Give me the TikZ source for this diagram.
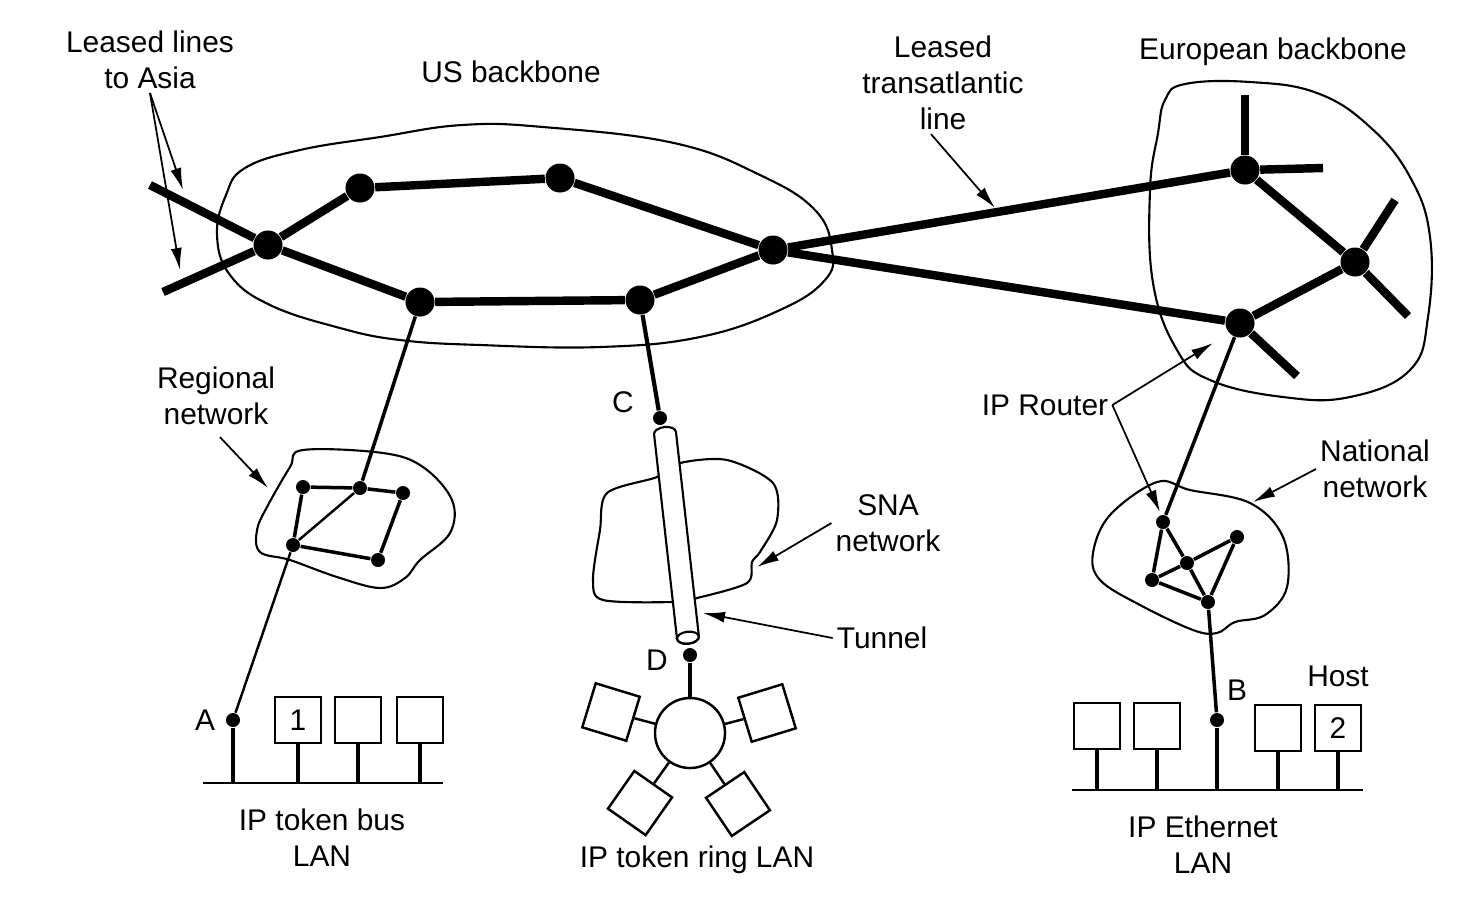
\documentclass[tikz,border=0pt]{standalone}
\usepackage{fontspec}
\setmainfont{Liberation Sans}
\usetikzlibrary{arrows.meta,positioning,calc}

\begin{document}
\begin{tikzpicture}[x=0.01cm, y=-0.01cm,
  router/.style={circle, fill, inner sep=0pt, minimum size=2.9mm},
  smalldot/.style={circle, fill, inner sep=0pt, minimum size=1.4mm},
  host/.style={rectangle, draw, line width=0.7pt, minimum size=4.6mm, inner sep=0pt, font=\fontsize{8.5}{10}\selectfont},
  trunk/.style={line width=2.4pt},
  link/.style={line width=1pt},
  thinlink/.style={line width=0.7pt},
  cloud/.style={line width=0.6pt},
  arrow/.style={-{Latex[length=2.2mm, width=1.1mm]}, line width=0.5pt},
  lbl/.style={align=center, inner sep=1pt, font=\fontsize{8.5}{10.2}\selectfont},
]
\useasboundingbox (0,0) rectangle (1473,923);

\draw[cloud] plot[smooth cycle, tension=0.7] coordinates {(217,235) (226,195) (245,168) (300,150) (380,137) (462,125) (543,127) (674,143) (760,175) (815,210) (832,250) (825,280) (780,310) (700,337) (600,347) (480,345) (400,340) (340,328) (270,305) (230,275)};
\draw[cloud] plot[smooth cycle, tension=0.7] coordinates {(1158,133) (1165,100) (1185,84) (1250,82) (1317,93) (1370,127) (1410,177) (1430,237) (1428,317) (1410,370) (1350,397) (1283,397) (1210,380) (1177,350) (1153,283) (1150,190)};
\draw[cloud] plot[smooth cycle, tension=0.6] coordinates {(303,450) (383,453) (423,467) (452,500) (450,533) (420,560) (405,578) (380,588) (337,577) (290,560) (260,552) (257,530) (267,507) (290,467)};
\draw[cloud] plot[smooth cycle, tension=0.6] coordinates {(1093,553) (1110,515) (1157,482) (1190,490) (1250,503) (1283,537) (1287,587) (1265,615) (1235,622) (1217,633) (1193,630) (1140,605) (1100,580)};
\draw[cloud] plot[smooth cycle, tension=0.5] coordinates {(657,477) (607,493) (600,530) (593,580) (603,600) (673,602) (697,598) (747,583) (752,562) (760,552) (777,520) (773,483) (727,460) (680,463)};

% US backbone
\node[router] (usw) at (268,245) {};
\node[router] (usnw) at (360,188) {};
\node[router] (usne) at (560,178) {};
\node[router] (use) at (773,250) {};
\node[router] (ussw) at (420,302) {};
\node[router] (usse) at (640,300) {};
\coordinate (asia1) at (150,185);
\coordinate (asia2) at (163,292);

\draw[trunk] (asia1) -- (usw);
\draw[trunk] (asia2) -- (usw);
\draw[trunk] (usw) -- (usnw);
\draw[trunk] (usnw) -- (usne);
\draw[trunk] (usne) -- (use);
\draw[trunk] (usw) -- (ussw);
\draw[trunk] (ussw) -- (usse);
\draw[trunk] (usse) -- (use);

% European backbone
\node[router] (eun) at (1245,170) {};
\node[router] (eue) at (1355,262) {};
\node[router] (eus) at (1240,323) {};
\coordinate (eun1) at (1245,95);
\coordinate (eun2) at (1323,168);
\coordinate (eue1) at (1395,200);
\coordinate (eue2) at (1408,316);
\coordinate (eus1) at (1297,376);

\draw[trunk] (use) -- (eun);
\draw[trunk] (use) -- (eus);
\draw[trunk] (eun) -- (eue);
\draw[trunk] (eue) -- (eus);
\draw[trunk] (eun) -- (eun1);
\draw[trunk] (eun) -- (eun2);
\draw[trunk] (eue) -- (eue1);
\draw[trunk] (eue) -- (eue2);
\draw[trunk] (eus) -- (eus1);

% regional network
\node[smalldot] (rg1) at (303,487) {};
\node[smalldot] (rg2) at (360,488) {};
\node[smalldot] (rg3) at (403,493) {};
\node[smalldot] (rg4) at (293,545) {};
\node[smalldot] (rg5) at (378,560) {};
\draw[link] (rg1) -- (rg2) -- (rg3) -- (rg5) -- (rg4) -- (rg1);
\draw[thinlink] (rg4) -- (rg2);
\draw[link] (ussw) -- (rg2);

% national network
\node[smalldot] (nt1) at (1163,522) {};
\node[smalldot] (nt2) at (1187,563) {};
\node[smalldot] (nt3) at (1152,580) {};
\node[smalldot] (nt4) at (1237,537) {};
\node[smalldot] (nt5) at (1208,602) {};
\draw[link] (nt1) -- (nt3) -- (nt5) -- (nt4) -- (nt2) -- (nt1);
\draw[link] (nt3) -- (nt2) -- (nt5);
\draw[link] (eus) -- (nt1);

% tunnel through the SNA network
\node[smalldot] (ndC) at (660,418) {};
\node[smalldot] (ndD) at (690,655) {};
\draw[line width=1.2pt] (usse) -- (ndC);
\begin{scope}[shift={(665,433)}, rotate=6.4]
  \coordinate (tuntop) at (0,0);
  \coordinate (tunend) at (0,206);
  \filldraw[cloud, fill=white] (-11,206) -- (-11,0) arc[start angle=180, end angle=0, x radius=1.1mm, y radius=0.6mm] -- (11,206) arc[start angle=0, end angle=-180, x radius=1.1mm, y radius=0.6mm] -- cycle;
  \draw[cloud] (tunend) ellipse[x radius=1.1mm, y radius=0.6mm];
\end{scope}

% token ring LAN
\node[circle, draw, line width=0.7pt, minimum size=7mm] (ring) at (690,733) {};
\node[host, rotate=-17] (trb1) at (611,712) {};
\node[host, rotate=17] (trb2) at (767,713) {};
\node[host, rotate=-35] (trb3) at (640,803) {};
\node[host, rotate=34] (trb4) at (738,804) {};
\draw[link] (ndD) -- (ring);
\draw[thinlink] (ring) -- (trb1);
\draw[thinlink] (ring) -- (trb2);
\draw[thinlink] (ring) -- (trb3);
\draw[thinlink] (ring) -- (trb4);

% token bus LAN
\node[smalldot] (ndA) at (233,720) {};
\node[host] (tb1) at (298,720) {1};
\node[host] (tb2) at (358,720) {};
\node[host] (tb3) at (420,720) {};
\coordinate (tbbusl) at (203,783);
\coordinate (tbbusr) at (443,783);
\draw[thinlink] (tbbusl) -- (tbbusr);
\draw[thinlink] (rg4) -- (ndA);
\draw[link] (ndA) -- (ndA |- tbbusl);
\draw[link] (tb1.south) -- (tb1.south |- tbbusl);
\draw[link] (tb2.south) -- (tb2.south |- tbbusl);
\draw[link] (tb3.south) -- (tb3.south |- tbbusl);

% Ethernet LAN
\node[smalldot] (ndB) at (1217,720) {};
\node[host] (eth1) at (1097,726) {};
\node[host] (eth2) at (1157,726) {};
\node[host] (eth3) at (1278,728) {};
\node[host] (eth4) at (1338,728) {2};
\coordinate (ethbusl) at (1072,790);
\coordinate (ethbusr) at (1363,790);
\draw[thinlink] (ethbusl) -- (ethbusr);
\draw[link] (nt5) -- (ndB);
\draw[link] (ndB) -- (ndB |- ethbusl);
\draw[link] (eth1.south) -- (eth1.south |- ethbusl);
\draw[link] (eth2.south) -- (eth2.south |- ethbusl);
\draw[link] (eth3.south) -- (eth3.south |- ethbusl);
\draw[link] (eth4.south) -- (eth4.south |- ethbusl);

% labels
\node[lbl] (lblasia) at (150,60) {Leased lines\\to Asia};
\node[lbl] (lblus) at (511,72) {US backbone};
\node[lbl] (lbltrans) at (943,83) {Leased\\transatlantic\\line};
\node[lbl] (lbleuro) at (1273,52) {European backbone};
\node[lbl] (lblreg) at (216,396) {Regional\\network};
\node[lbl] (lblsna) at (888,523) {SNA\\network};
\node[lbl] (lbltun) at (882,638) {Tunnel};
\node[lbl] (lblrouter) at (1045,405) {IP Router};
\node[lbl] (lblnat) at (1375,469) {National\\network};
\node[lbl] (lbltbus) at (322,838) {IP token bus\\LAN};
\node[lbl] (lbltring) at (697,860) {IP token ring LAN};
\node[lbl] (lbleth) at (1203,845) {IP Ethernet\\LAN};
\node[lbl] (lblhost) at (1338,676) {Host};
\node[lbl] (lblA) at (205,720) {A};
\node[lbl] (lblB) at (1237,690) {B};
\node[lbl] (lblC) at (623,402) {C};
\node[lbl] (lblD) at (657,660) {D};

% callout arrows
\coordinate (asiatip1) at (183,190);
\coordinate (asiatip2) at (180,270);
\coordinate (transtip) at (995,208);
\coordinate (regtip) at (268,488);
\coordinate (snatip) at (757,567);
\coordinate (tuntip) at (703,613);
\coordinate (routertip1) at (1213,343);
\coordinate (routertip2) at (1160,512);
\coordinate (nattip) at (1253,502);
\draw[arrow] (lblasia.south) -- (asiatip1);
\draw[arrow] (lblasia.south) -- (asiatip2);
\draw[arrow] ($(lbltrans.south)+(-12,0)$) -- (transtip);
\draw[arrow] ($(lblreg.south)+(4,8)$) -- (regtip);
\draw[arrow] (lblsna.west) -- (snatip);
\draw[arrow] (lbltun.west) -- (tuntip);
\draw[arrow] (lblrouter.east) -- (routertip1);
\draw[arrow] (lblrouter.east) -- (routertip2);
\draw[arrow] (lblnat.west) -- (nattip);

\end{tikzpicture}
\end{document}
